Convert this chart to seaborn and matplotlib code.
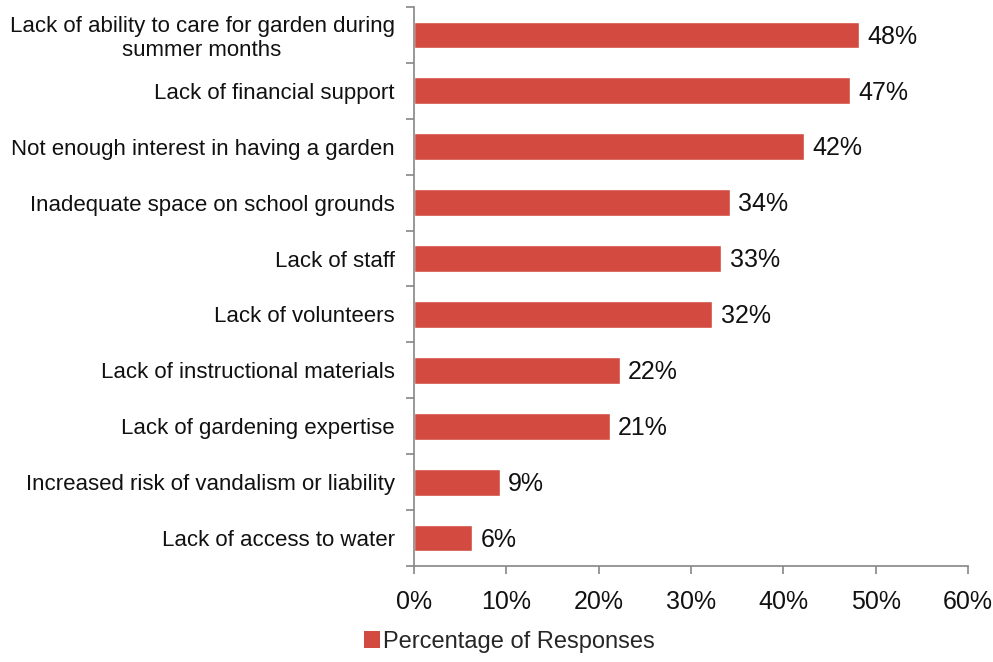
import matplotlib
matplotlib.use("Agg")
import matplotlib.pyplot as plt
import seaborn as sns
import pandas as pd
from matplotlib.ticker import FuncFormatter, FixedLocator
from matplotlib.patches import Patch

categories = [
    "Lack of ability to care for garden during\nsummer months",
    "Lack of financial support",
    "Not enough interest in having a garden",
    "Inadequate space on school grounds",
    "Lack of staff",
    "Lack of volunteers",
    "Lack of instructional materials",
    "Lack of gardening expertise",
    "Increased risk of vandalism or liability",
    "Lack of access to water",
]
values = [48.2, 47.2, 42.2, 34.2, 33.3, 32.3, 22.3, 21.2, 9.3, 6.3]
value_labels = ["48%", "47%", "42%", "34%", "33%", "32%", "22%", "21%", "9%", "6%"]
x_ticks = [0, 10, 20, 30, 40, 50, 60]
series_name = "Percentage of Responses"

sns.set_theme(style="white")
plt.rcParams['font.family'] = ['Liberation Sans', 'DejaVu Sans']

df = pd.DataFrame({"cat": categories, "val": values})
color = "#D34A40"
text_color = "#111111"

fig = plt.figure(figsize=(9.93, 6.62), dpi=100)
ax = fig.add_axes([414/993, 1-566/662, (968-414)/993, (566-7)/662])
sns.barplot(data=df, y="cat", x="val", color=color, width=0.48, saturation=1, ax=ax, orient="h")

ax.set_xlim(0, 60)
ax.set_ylim(len(categories)-0.5, -0.5)
ax.xaxis.set_major_locator(FixedLocator(x_ticks))
ax.xaxis.set_major_formatter(FuncFormatter(lambda v, p: f"{int(v)}%"))
ax.set_xlabel("")
ax.set_ylabel("")

for i, (v, lab) in enumerate(zip(values, value_labels)):
    ax.text(v + 0.9, i + 0.03, lab, va="center", ha="left", fontsize=18, color=text_color)

for s in ["top", "right"]:
    ax.spines[s].set_visible(False)
for s in ["left", "bottom"]:
    ax.spines[s].set_color("#868686")
    ax.spines[s].set_linewidth(1.2)

ax.tick_params(axis="x", which="major", bottom=True, direction="out", length=6, width=1.2,
               color="#868686", labelsize=18, labelcolor=text_color, pad=11)
ax.tick_params(axis="y", which="major", left=False, labelsize=16, labelcolor=text_color, pad=8)
ax.set_yticks(range(len(categories)))
ax.set_yticklabels(categories, linespacing=1.15, multialignment="center")
ax.set_yticks([i - 0.5 for i in range(len(categories)+1)], minor=True)
ax.tick_params(axis="y", which="minor", left=True, direction="out", length=6, width=1.2, color="#868686")

handle = Patch(facecolor=color, edgecolor="none")
fig.legend([handle], [series_name], loc="center", bbox_to_anchor=(509/993, 1-642/662),
           frameon=False, fontsize=17, handlelength=0.7, handleheight=0.75, handletextpad=0.1,
           borderaxespad=0)

fig.savefig("out.png", dpi=100)
